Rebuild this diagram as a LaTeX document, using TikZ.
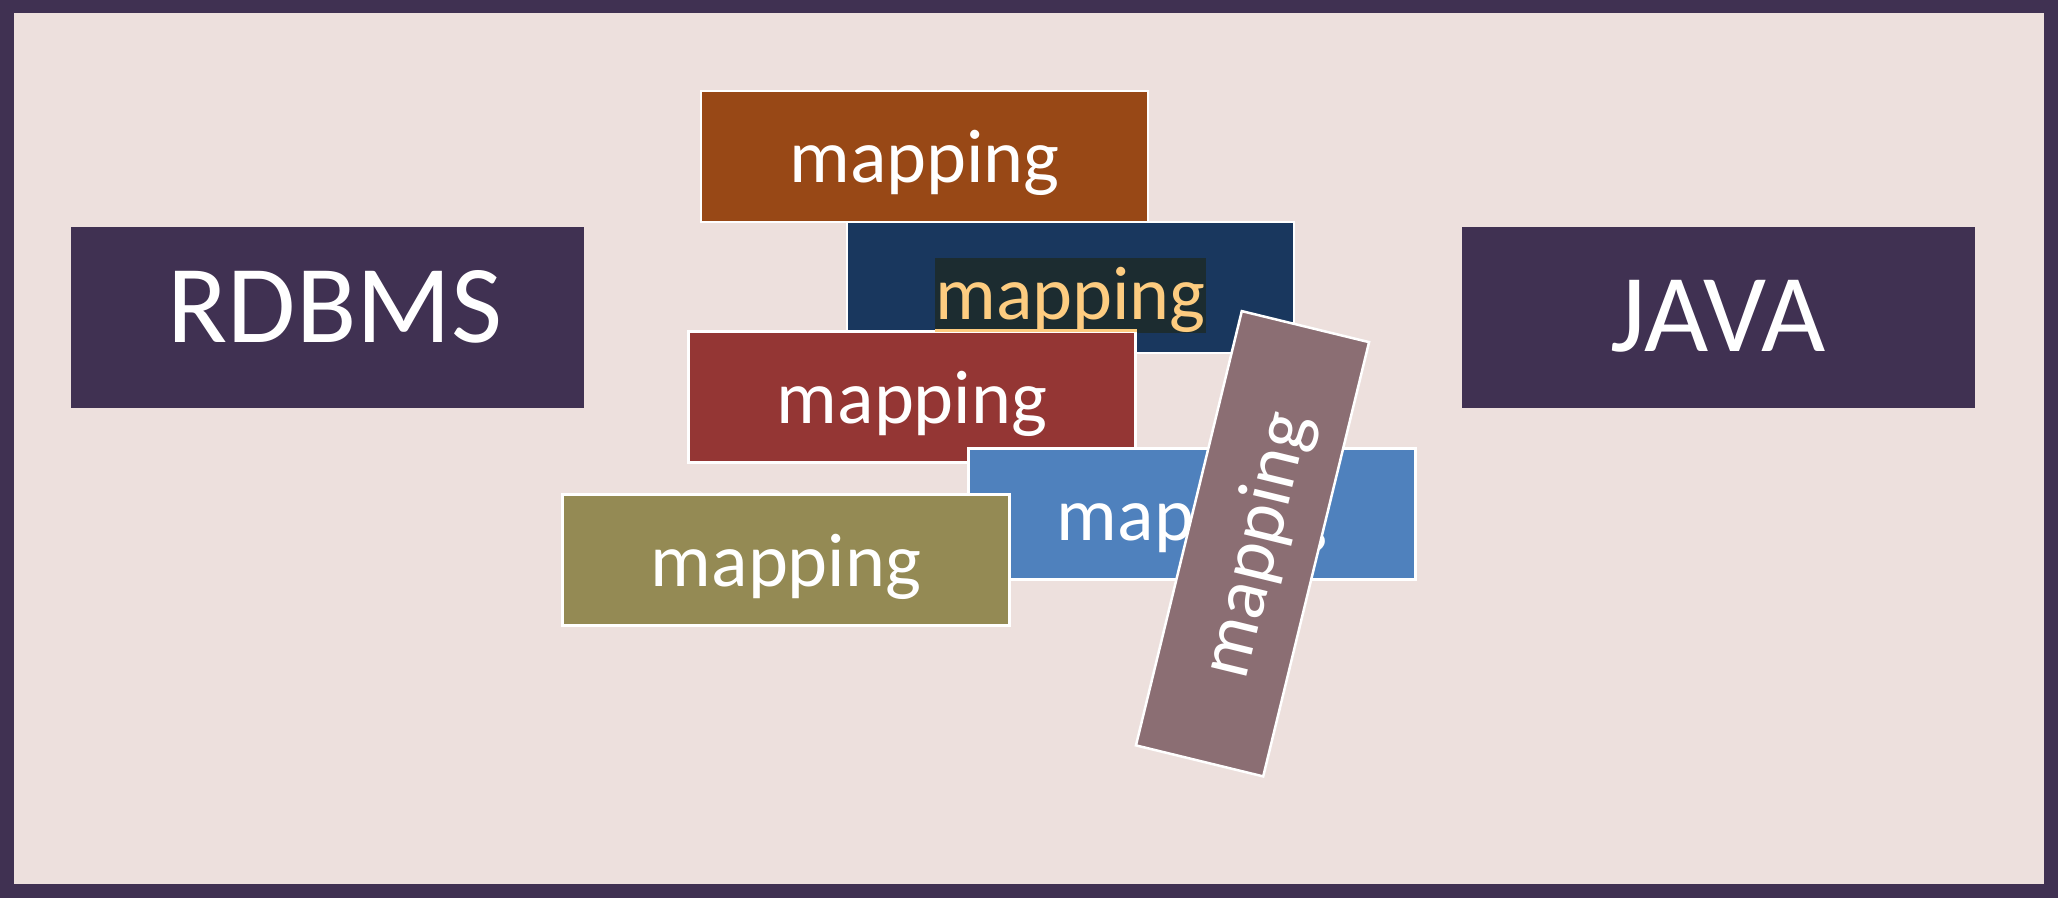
\documentclass[tikz,border=0pt]{standalone}
\usepackage{fontspec}
\setmainfont{Carlito}
\definecolor{framecol}{HTML}{403152}
\definecolor{bgcol}{HTML}{EDE0DD}
\definecolor{orangebox}{HTML}{984816}
\definecolor{navybox}{HTML}{19375E}
\definecolor{redbox}{HTML}{943634}
\definecolor{bluebox}{HTML}{4F81BD}
\definecolor{olivebox}{HTML}{948A54}
\definecolor{mauvebox}{HTML}{8B6E73}
\definecolor{hlfill}{HTML}{1C2C30}
\definecolor{hltext}{HTML}{FDCC80}
\tikzset{
  mapbox/.style={draw=white, line width=2.5pt, minimum width=447pt, minimum height=131pt,
    inner sep=0pt, text=white, font=\fontsize{76}{80}\selectfont,
    text height=52pt, text depth=0pt},
  bigbox/.style={fill=framecol, inner sep=0pt, minimum width=513pt, minimum height=181pt,
    text=white, font=\fontsize{111}{115}\selectfont, text depth=0pt},
  hlbox/.style={fill=hlfill, inner sep=0pt, minimum width=269pt, minimum height=75pt,
    text=hltext, font=\fontsize{76}{80}\selectfont, text height=48pt, text depth=0pt}
}
\begin{document}
\begin{tikzpicture}[x=1pt,y=1pt]
\useasboundingbox (0,0) rectangle (2058,-898);
\fill[framecol] (0,0) rectangle (2058,-898);
\fill[bgcol] (14,-13) rectangle (2044,-884);
\node[bigbox, text height=49pt] (rdbms) at (327,-317.5) {\hspace*{16pt}RDBMS};
\node[bigbox, text height=67pt] (java) at (1718,-317.5) {JAVA};
\node[mapbox, fill=orangebox] (m1) at (924.5,-156.5) {mapping};
\node[mapbox, fill=navybox] (m2) at (1070.5,-287.5) {};
\node[hlbox] (hl) at (1070.5,-295) {mapping};
\node[mapbox, fill=redbox] (m3) at (912,-397) {mapping};
\draw[hltext, line width=2.5pt] (hl.south west |- m3.north) -- (m3.north east);
\node[mapbox, fill=bluebox] (m4) at (1192,-514) {mapping};
\node[mapbox, fill=olivebox] (m5) at (786,-560) {mapping};
\node[mapbox, fill=mauvebox, rotate=76.3] (m6) at (1252.5,-543.75) {mapping};
\end{tikzpicture}
\end{document}
